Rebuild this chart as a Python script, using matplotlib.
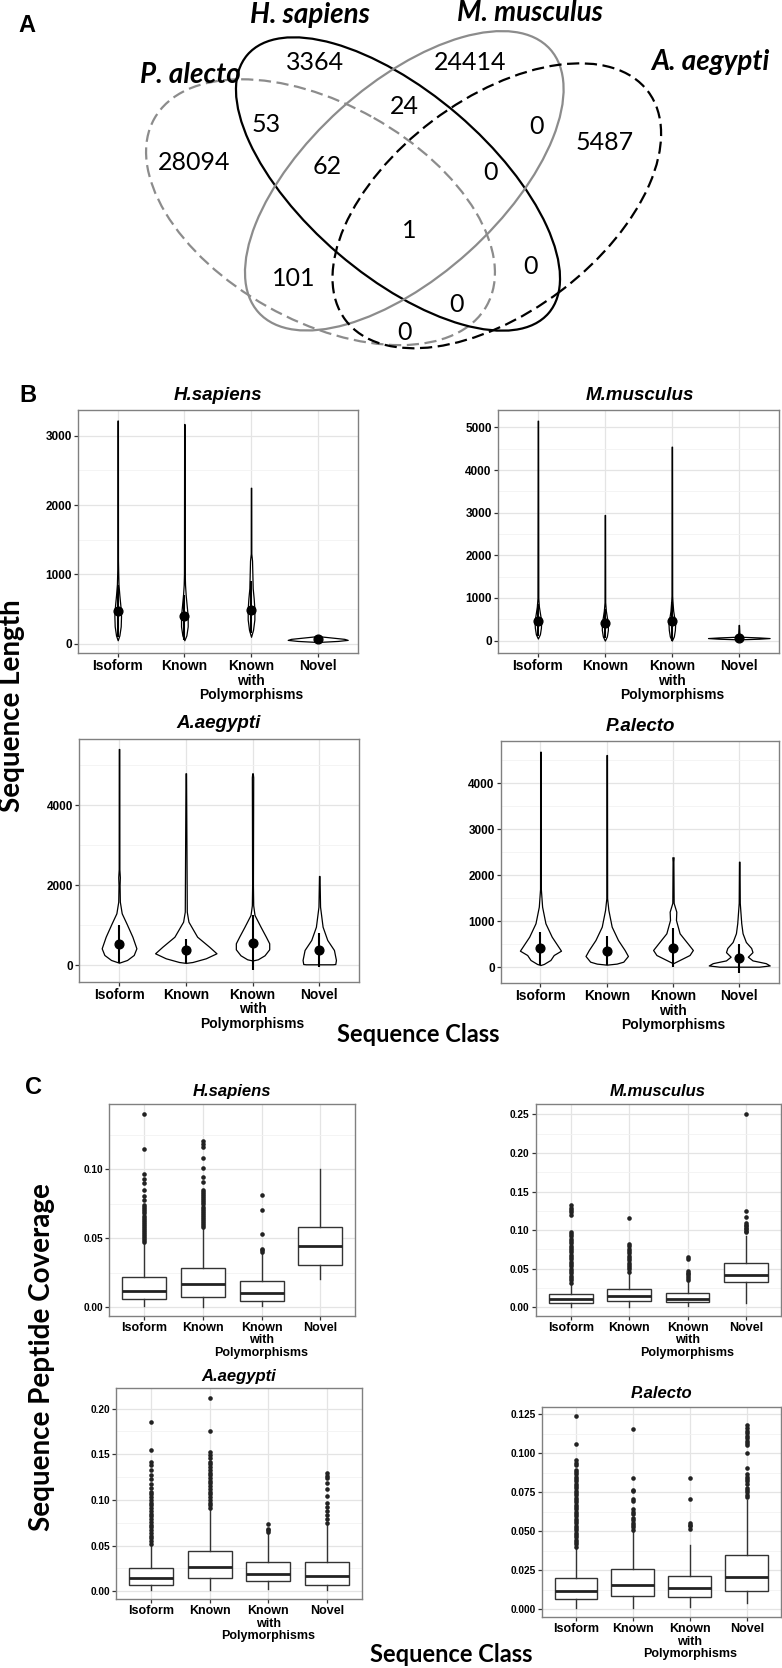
import numpy as np
import matplotlib
matplotlib.use("Agg")
import matplotlib.pyplot as plt
from matplotlib.patches import Ellipse
from matplotlib import font_manager as fm

# ====================== DATA ======================
classes = ["Isoform", "Known", "Known\nwith\nPolymorphisms", "Novel"]
species = ["H.sapiens", "M.musculus", "A.aegypti", "P.alecto"]

# ---- Panel A (Venn) ----
venn_set_names = ["P. alecto", "H. sapiens", "M. musculus", "A. aegypti"]
venn_regions = ["H", "M", "P", "A", "PH", "HM", "MA", "PHM", "HMA", "PHMA", "PM", "HA", "PHA", "PA"]
venn_counts = [3364, 24414, 28094, 5487, 53, 24, 0, 62, 0, 1, 101, 0, 0, 0]

# ---- Panel B (sequence length violins): outline profile (value, half width), mean, mean+-sd ----
hs_len_y = [[50, 120, 250, 400, 550, 700, 850, 1000, 1200, 3220],
            [50, 120, 250, 400, 550, 700, 850, 1000, 3170],
            [100, 200, 350, 500, 650, 800, 1000, 1200, 1300, 2250],
            [25, 40, 55, 70, 85, 100, 110]]
hs_len_w = [[0.0, 0.025, 0.045, 0.05, 0.04, 0.025, 0.012, 0.008, 0.004, 0.003],
            [0.0, 0.03, 0.05, 0.05, 0.035, 0.02, 0.01, 0.006, 0.003],
            [0.0, 0.03, 0.05, 0.05, 0.04, 0.025, 0.02, 0.015, 0.004, 0.003],
            [0.0, 0.3, 0.45, 0.4, 0.25, 0.1, 0.0]]
hs_len_mean = [476, 400, 486, 63]
hs_len_lo = [100, 60, 150, 35]
hs_len_hi = [850, 700, 900, 100]

mm_len_y = [[50, 150, 300, 450, 600, 800, 1000, 5156],
            [0, 100, 250, 400, 550, 700, 900, 2946],
            [0, 100, 250, 400, 550, 700, 900, 1050, 4547],
            [30, 45, 60, 75, 90, 130, 368]]
mm_len_w = [[0.0, 0.03, 0.045, 0.05, 0.035, 0.015, 0.006, 0.003],
            [0.0, 0.03, 0.045, 0.045, 0.03, 0.015, 0.005, 0.003],
            [0.0, 0.03, 0.045, 0.05, 0.035, 0.02, 0.01, 0.005, 0.003],
            [0.0, 0.3, 0.46, 0.3, 0.05, 0.01, 0.003]]
mm_len_mean = [462, 408, 469, 56]
mm_len_lo = [100, 50, -20, 20]
mm_len_hi = [850, 750, 900, 150]

aa_len_y = [[65, 133, 258, 425, 715, 1050, 1300, 1590, 2000, 2200, 2400, 5407],
            [60, 82, 175, 300, 465, 715, 1090, 1340, 4800],
            [120, 150, 250, 400, 550, 715, 965, 1258, 1500, 2000, 4700, 4800],
            [25, 32, 133, 383, 633, 965, 1465, 2233]]
aa_len_w = [[0.0, 0.12, 0.22, 0.26, 0.2, 0.11, 0.04, 0.012, 0.008, 0.012, 0.005, 0.004],
            [0.0, 0.1, 0.3, 0.46, 0.35, 0.17, 0.04, 0.015, 0.004],
            [0.0, 0.08, 0.18, 0.25, 0.25, 0.2, 0.12, 0.03, 0.01, 0.006, 0.01, 0.004],
            [0.2, 0.24, 0.25, 0.22, 0.12, 0.05, 0.012, 0.004]]
aa_len_mean = [532, 383, 565, 383]
aa_len_lo = [62, 60, -118, -33]
aa_len_hi = [1002, 658, 1250, 800]

pa_len_y = [[50, 72, 159, 267, 361, 448, 665, 957, 1317, 1700, 4687],
            [57, 80, 122, 246, 376, 593, 883, 1246, 1500, 4615],
            [87, 159, 267, 376, 522, 739, 1028, 1209, 1400, 2300, 2391],
            [13, 40, 90, 150, 230, 330, 420, 550, 740, 960, 1400, 2296]]
pa_len_w = [[0.0, 0.05, 0.15, 0.2, 0.31, 0.27, 0.17, 0.075, 0.025, 0.006, 0.004],
            [0.0, 0.15, 0.25, 0.32, 0.27, 0.17, 0.075, 0.025, 0.006, 0.004],
            [0.0, 0.1, 0.25, 0.3, 0.22, 0.1, 0.045, 0.05, 0.01, 0.006, 0.01],
            [0.3, 0.46, 0.4, 0.2, 0.13, 0.2, 0.18, 0.1, 0.05, 0.03, 0.008, 0.004]]
pa_len_mean = [412, 362, 420, 196]
pa_len_lo = [50, 50, 13, -130]
pa_len_hi = [768, 680, 848, 507]

# ---- Panel C (peptide coverage boxplots) ----
hs_cov_q1 = [0.0060, 0.0077, 0.0048, 0.0307]
hs_cov_med = [0.0118, 0.0167, 0.0101, 0.0444]
hs_cov_q3 = [0.0222, 0.0283, 0.0191, 0.0584]
hs_cov_lo = [0.0010, 0.0003, 0.0012, 0.0203]
hs_cov_hi = [0.0460, 0.0565, 0.0395, 0.1000]
hs_cov_out = [[0.047, 0.0485, 0.050, 0.0515, 0.053, 0.0545, 0.056, 0.0575, 0.059, 0.0605, 0.062,
               0.0635, 0.065, 0.0665, 0.068, 0.0695, 0.071, 0.0725, 0.074, 0.0775, 0.081, 0.085,
               0.090, 0.093, 0.0966, 0.1145, 0.1399],
              [0.058, 0.0595, 0.061, 0.0625, 0.064, 0.0655, 0.067, 0.0685, 0.070, 0.0715, 0.073,
               0.0745, 0.076, 0.0775, 0.079, 0.0805, 0.082, 0.0835, 0.085, 0.091, 0.0945, 0.1007,
               0.108, 0.1164, 0.1185, 0.1207],
              [0.0403, 0.0415, 0.0422, 0.0529, 0.0703, 0.0814],
              []]

mm_cov_q1 = [0.0060, 0.0082, 0.0063, 0.0332]
mm_cov_med = [0.0108, 0.0146, 0.0108, 0.0418]
mm_cov_q3 = [0.0172, 0.0233, 0.0181, 0.0570]
mm_cov_lo = [0.0009, 0.0010, 0.0015, 0.0060]
mm_cov_hi = [0.0310, 0.0440, 0.0340, 0.0930]
mm_cov_out = [[0.032, 0.035, 0.038, 0.041, 0.044, 0.047, 0.050, 0.053, 0.056, 0.059, 0.062, 0.065,
               0.068, 0.071, 0.074, 0.077, 0.080, 0.083, 0.086, 0.089, 0.092, 0.095, 0.098, 0.120,
               0.123, 0.126, 0.129, 0.1325],
              [0.046, 0.049, 0.052, 0.055, 0.058, 0.061, 0.064, 0.067, 0.070, 0.073, 0.076, 0.079,
               0.082, 0.1153],
              [0.036, 0.038, 0.040, 0.043, 0.045, 0.047, 0.062, 0.065],
              [0.097, 0.099, 0.101, 0.103, 0.105, 0.107, 0.109, 0.117, 0.1247, 0.250]]

aa_cov_q1 = [0.0073, 0.0149, 0.0113, 0.0069]
aa_cov_med = [0.0142, 0.0270, 0.0189, 0.0168]
aa_cov_q3 = [0.0259, 0.0445, 0.0324, 0.0324]
aa_cov_lo = [0.0015, 0.0015, 0.0030, 0.0015]
aa_cov_hi = [0.0507, 0.0890, 0.0640, 0.0726]
aa_cov_out = [[0.052, 0.055, 0.058, 0.061, 0.064, 0.067, 0.070, 0.073, 0.076, 0.079, 0.082, 0.085,
               0.088, 0.091, 0.094, 0.097, 0.100, 0.103, 0.106, 0.109, 0.113, 0.1175, 0.1226,
               0.1273, 0.1328, 0.1383, 0.1419, 0.1547, 0.185],
              [0.091, 0.094, 0.097, 0.100, 0.103, 0.106, 0.109, 0.112, 0.115, 0.118, 0.121, 0.124,
               0.127, 0.130, 0.133, 0.136, 0.139, 0.142, 0.146, 0.149, 0.152, 0.1755, 0.2117],
              [0.065, 0.067, 0.068, 0.0737],
              [0.0751, 0.0788, 0.0835, 0.088, 0.0927, 0.0963, 0.1047, 0.1117, 0.1182, 0.1237,
               0.1266, 0.129]]

pa_cov_q1 = [0.0062, 0.0086, 0.0079, 0.0114]
pa_cov_med = [0.0118, 0.0156, 0.0137, 0.0204]
pa_cov_q3 = [0.0197, 0.0255, 0.0214, 0.0347]
pa_cov_lo = [0.0004, 0.0005, 0.0013, 0.0037]
pa_cov_hi = [0.0390, 0.0496, 0.0410, 0.0700]
pa_cov_out = [[0.040, 0.0415, 0.043, 0.0445, 0.046, 0.0475, 0.049, 0.0505, 0.052, 0.0535, 0.055,
               0.0565, 0.058, 0.0595, 0.061, 0.0625, 0.064, 0.0655, 0.067, 0.0685, 0.070, 0.0715,
               0.073, 0.0745, 0.076, 0.0775, 0.079, 0.0805, 0.082, 0.0835, 0.085, 0.0865, 0.088,
               0.0895, 0.0925, 0.094, 0.0957, 0.1057, 0.1239],
              [0.051, 0.0525, 0.054, 0.0555, 0.057, 0.0585, 0.061, 0.0625, 0.0645, 0.0695, 0.0705,
               0.0755, 0.0765, 0.0843, 0.1155],
              [0.0515, 0.053, 0.054, 0.0555, 0.0704, 0.0843],
              [0.072, 0.0735, 0.075, 0.0765, 0.078, 0.080, 0.082, 0.0835, 0.085, 0.0865, 0.0906,
               0.100, 0.105, 0.1065, 0.108, 0.1095, 0.111, 0.113, 0.1145, 0.116, 0.118]]

# ---- tick values / labels ----
b_hs_ticks = [0, 1000, 2000, 3000]
b_mm_ticks = [0, 1000, 2000, 3000, 4000, 5000]
b_aa_ticks = [0, 2000, 4000]
b_pa_ticks = [0, 1000, 2000, 3000, 4000]
c_hs_ticks = [0.00, 0.05, 0.10]
c_hs_labels = ["0.00", "0.05", "0.10"]
c_mm_ticks = [0.00, 0.05, 0.10, 0.15, 0.20, 0.25]
c_mm_labels = ["0.00", "0.05", "0.10", "0.15", "0.20", "0.25"]
c_aa_ticks = [0.00, 0.05, 0.10, 0.15, 0.20]
c_aa_labels = ["0.00", "0.05", "0.10", "0.15", "0.20"]
c_pa_ticks = [0.000, 0.025, 0.050, 0.075, 0.100, 0.125]
c_pa_labels = ["0.000", "0.025", "0.050", "0.075", "0.100", "0.125"]

# ====================== STYLE / LAYOUT ======================
def pick(*names):
    for n in names:
        try:
            fm.findfont(fm.FontProperties(family=n), fallback_to_default=False)
            return n
        except Exception:
            pass
    return "DejaVu Sans"

ARIAL = pick("Liberation Sans", "Arimo", "DejaVu Sans")
CALIB = pick("Lato", "Open Sans", "Liberation Sans")

W, H = 782, 1668
fig = plt.figure(figsize=(W / 100, H / 100), dpi=100)
fig.patch.set_facecolor("white")


def px_axes(l, t, r, b):
    return fig.add_axes([l / W, 1 - b / H, (r - l) / W, (b - t) / H])


def ftext(x, y, s, **kw):
    kw.setdefault("ha", "center")
    kw.setdefault("va", "center")
    return fig.text(x / W, 1 - y / H, s, **kw)


# ---------------- Panel A: Venn ----------------
axv = px_axes(0, 0, W, 390)
axv.set_xlim(0, W)
axv.set_ylim(390, 0)
axv.axis("off")

venn_geom = {  # center x, center y, semi-major, semi-minor, angle, color, dashed
    "P. alecto": (320.5, 212.2, 190.7, 108.3, 29.4, "#8c8c8c", True),
    "H. sapiens": (398.0, 184.0, 198.4, 91.7, 40.6, "black", False),
    "M. musculus": (404.3, 180.8, 196.4, 96.0, 137.9, "#8c8c8c", False),
    "A. aegypti": (496.8, 205.8, 189.6, 106.5, 142.9, "black", True),
}
for name in venn_set_names:
    cx, cy, a, b, ang, col, dashed = venn_geom[name]
    e = Ellipse((cx, cy), 2 * a, 2 * b, angle=ang, fill=False, edgecolor=col, lw=1.6,
                linestyle=(0, (5.5, 2.5)) if dashed else "-")
    axv.add_patch(e)

venn_label_xy = {"H. sapiens": (310, 15), "M. musculus": (530, 13), "P. alecto": (190, 75),
                 "A. aegypti": (710, 62)}
for name in venn_set_names:
    x, y = venn_label_xy[name]
    axv.text(x, y, name, ha="center", va="center", fontsize=20, fontweight="bold",
             style="italic", family=CALIB)

venn_count_xy = {"H": (315, 63), "M": (470, 63), "P": (194, 163), "A": (605, 143),
                 "PH": (266, 125), "HM": (404, 106), "MA": (537, 127), "PHM": (327, 167),
                 "HMA": (491, 173), "PHMA": (409, 230), "PM": (294, 278), "HA": (531, 267),
                 "PHA": (456, 305), "PA": (404, 332)}
for reg, cnt in zip(venn_regions, venn_counts):
    x, y = venn_count_xy[reg]
    axv.text(x, y, str(cnt), ha="center", va="center", fontsize=18, family=CALIB)

# panel letters
ftext(27, 25, "A", fontsize=17, fontweight="bold", family=ARIAL)
ftext(28, 396, "B", fontsize=17, fontweight="bold", family=ARIAL)
ftext(33, 1088, "C", fontsize=17, fontweight="bold", family=ARIAL)


def style_axes(ax, ylim, ticks, labels, minor, ytfs, xtfs):
    ax.set_xlim(0.4, 4.6)
    ax.set_ylim(*ylim)
    ax.set_yticks(ticks, labels=labels, fontsize=ytfs, fontweight="bold", family=ARIAL)
    ax.set_yticks(minor, minor=True)
    ax.set_xticks([1, 2, 3, 4], labels=classes, fontsize=xtfs, fontweight="bold",
                  family=ARIAL, linespacing=1.05)
    ax.tick_params(which="major", length=2.8, width=0.9, color="#333333", pad=1.5)
    ax.tick_params(which="minor", length=0)
    ax.grid(True, which="major", color="#e4e4e4", lw=0.9)
    ax.grid(True, which="minor", axis="y", color="#f2f2f2", lw=0.6)
    ax.set_axisbelow(True)
    for s in ax.spines.values():
        s.set_color("#808080")
        s.set_linewidth(1.0)


def violin_panel(rect, ys, ws, means, los, his, ylim, ticks, minor):
    ax = px_axes(*rect)
    style_axes(ax, ylim, ticks, [str(t) for t in ticks], minor, 8.5, 10)
    for i in range(4):
        x = i + 1
        y = np.array(ys[i], float)
        w = np.array(ws[i], float)
        ax.fill_betweenx(y, x - w, x + w, facecolor="white", edgecolor="black", lw=0.9,
                         zorder=3)
        ax.vlines(x, los[i], his[i], color="black", lw=1.5, zorder=4)
        ax.plot([x], [means[i]], "o", color="black", ms=6.3, zorder=5)
    return ax


def box_panel(rect, q1, med, q3, lo, hi, out, ylim, ticks, labels, minor):
    ax = px_axes(*rect)
    style_axes(ax, ylim, ticks, labels, minor, 7.3, 9)
    stats = [dict(q1=q1[i], med=med[i], q3=q3[i], whislo=lo[i], whishi=hi[i],
                  fliers=out[i]) for i in range(4)]
    ax.bxp(stats, positions=[1, 2, 3, 4], widths=0.75, showcaps=False, patch_artist=True,
           boxprops=dict(facecolor="white", edgecolor="#333333", lw=1.0),
           medianprops=dict(color="#222222", lw=2.0),
           whiskerprops=dict(color="#333333", lw=1.0),
           flierprops=dict(marker="o", markersize=3.3, markerfacecolor="#222222",
                           markeredgecolor="none"),
           zorder=3)
    ax.set_xticks([1, 2, 3, 4], labels=classes, fontsize=9, fontweight="bold",
                  family=ARIAL, linespacing=1.05)
    ax.set_xlim(0.4, 4.6)
    return ax


# ---------------- Panel B ----------------
violin_panel((77.7, 410, 357.7, 653), hs_len_y, hs_len_w, hs_len_mean, hs_len_lo, hs_len_hi,
             (-134, 3372), b_hs_ticks, [500, 1500, 2500])
violin_panel((497.7, 410, 779, 653), mm_len_y, mm_len_w, mm_len_mean, mm_len_lo, mm_len_hi,
             (-290, 5407), b_mm_ticks, [500, 1500, 2500, 3500, 4500])
violin_panel((79, 739, 359.3, 981.7), aa_len_y, aa_len_w, aa_len_mean, aa_len_lo, aa_len_hi,
             (-410, 5657), b_aa_ticks, [1000, 3000, 5000])
violin_panel((500.7, 741, 779, 983.3), pa_len_y, pa_len_w, pa_len_mean, pa_len_lo, pa_len_hi,
             (-348, 4920), b_pa_ticks, [500, 1500, 2500, 3500, 4500])

title_kw = dict(fontweight="bold", style="italic", family=ARIAL)
ftext(217.5, 396, species[0], fontsize=13.5, **title_kw)
ftext(640, 396, species[1], fontsize=13.5, **title_kw)
ftext(218.3, 723.3, species[2], fontsize=13.5, **title_kw)
ftext(640, 726.7, species[3], fontsize=13.5, **title_kw)

ftext(12, 706, "Sequence Length", rotation=90, fontsize=20, fontweight="bold", family=CALIB)
ftext(418.5, 1035, "Sequence Class", fontsize=17, fontweight="bold", family=CALIB)

# ---------------- Panel C ----------------
box_panel((109.3, 1104.3, 355.3, 1315.7), hs_cov_q1, hs_cov_med, hs_cov_q3, hs_cov_lo,
          hs_cov_hi, hs_cov_out, (-0.0061, 0.1471), c_hs_ticks, c_hs_labels,
          [0.025, 0.075, 0.125])
box_panel((535.7, 1104.3, 781, 1315.7), mm_cov_q1, mm_cov_med, mm_cov_q3, mm_cov_lo,
          mm_cov_hi, mm_cov_out, (-0.0109, 0.263), c_mm_ticks, c_mm_labels,
          [0.025, 0.075, 0.125, 0.175, 0.225])
box_panel((116.3, 1387.7, 362, 1599.3), aa_cov_q1, aa_cov_med, aa_cov_q3, aa_cov_lo,
          aa_cov_hi, aa_cov_out, (-0.0088, 0.2229), c_aa_ticks, c_aa_labels,
          [0.025, 0.075, 0.125, 0.175])
box_panel((541.7, 1406.7, 781, 1617.3), pa_cov_q1, pa_cov_med, pa_cov_q3, pa_cov_lo,
          pa_cov_hi, pa_cov_out, (-0.0053, 0.1299), c_pa_ticks, c_pa_labels,
          [0.0125, 0.0375, 0.0625, 0.0875, 0.1125])

ftext(232, 1091.7, species[0], fontsize=12, **title_kw)
ftext(658, 1091.7, species[1], fontsize=12, **title_kw)
ftext(239, 1376, species[2], fontsize=12, **title_kw)
ftext(661.7, 1393.3, species[3], fontsize=12, **title_kw)

ftext(41.7, 1357.5, "Sequence Peptide Coverage", rotation=90, fontsize=20, fontweight="bold",
      family=CALIB)
ftext(451.5, 1655, "Sequence Class", fontsize=17, fontweight="bold", family=CALIB)

fig.savefig("out.png", dpi=100, facecolor="white")
